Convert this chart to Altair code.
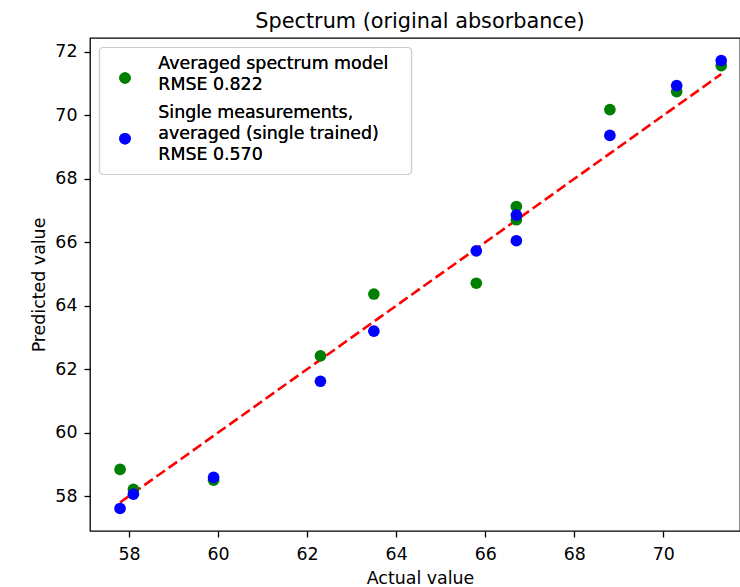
import altair as alt
import pandas as pd

# ---- data ----
actual = [57.8, 58.1, 59.9, 62.3, 63.5, 65.8, 66.7, 66.7, 68.8, 70.3, 71.3]
pred_avg_spectrum = [58.84, 58.21, 58.50, 62.42, 64.37, 64.71, 67.13, 66.71, 70.18, 70.75, 71.57]
pred_single_avg = [57.61, 58.06, 58.59, 61.62, 63.20, 65.73, 66.86, 66.05, 69.37, 70.94, 71.73]
ideal_line = [57.8, 71.3]

series_labels = [
    ["Averaged spectrum model", "RMSE 0.822"],
    ["Single measurements,", "averaged (single trained)", "RMSE 0.570"],
]
series_colors = ["#008000", "#0000ff"]

x_ticks = [58, 60, 62, 64, 66, 68, 70]
y_ticks = [58, 60, 62, 64, 66, 68, 70, 72]

FONT = "DejaVu Sans"
W, H = 650, 493
x_dom = [57.125, 71.722]
y_dom = [56.90, 72.44]

df_g = pd.DataFrame({"actual": actual, "pred": pred_avg_spectrum})
df_b = pd.DataFrame({"actual": actual, "pred": pred_single_avg})
df_l = pd.DataFrame({"actual": ideal_line, "pred": ideal_line})

xs = alt.Scale(domain=x_dom, nice=False, zero=False)
ys = alt.Scale(domain=y_dom, nice=False, zero=False)

x_axis = alt.Axis(values=x_ticks, title="Actual value", grid=False, domain=False,
                  tickSize=6, tickWidth=1.3, tickColor="black", labelPadding=8,
                  labelFontSize=17.4, labelFont=FONT, labelColor="black",
                  titleFont=FONT, titleFontSize=17.4, titleFontWeight="normal",
                  titleColor="black", titleX=330, titleY=52, titleAlign="center",
                  titleBaseline="alphabetic")
y_axis = alt.Axis(values=y_ticks, title="Predicted value", grid=False, domain=False,
                  tickSize=6, tickWidth=1.3, tickColor="black", labelPadding=7,
                  labelFontSize=17.4, labelFont=FONT, labelColor="black",
                  titleFont=FONT, titleFontSize=17.4, titleFontWeight="normal",
                  titleColor="black", titleX=-45.5, titleY=H / 2, titleAngle=270,
                  titleAlign="center", titleBaseline="alphabetic")

line = alt.Chart(df_l).mark_line(color="#ff0000", strokeWidth=2.6,
                                 strokeDash=[10.4, 4.5]).encode(
    x=alt.X("actual:Q", scale=xs, axis=x_axis),
    y=alt.Y("pred:Q", scale=ys, axis=y_axis),
)
pts_g = alt.Chart(df_g).mark_circle(size=136, opacity=1, color=series_colors[0]).encode(
    x=alt.X("actual:Q", scale=xs), y=alt.Y("pred:Q", scale=ys))
pts_b = alt.Chart(df_b).mark_circle(size=136, opacity=1, color=series_colors[1]).encode(
    x=alt.X("actual:Q", scale=xs), y=alt.Y("pred:Q", scale=ys))

# ---- hand-built legend box (matplotlib style) ----
legend_layers = [
    alt.Chart(df_l).mark_rect(fill="white", fillOpacity=0.8, stroke="#cccccc",
                              strokeWidth=1.2, cornerRadius=4).encode(
        x=alt.value(9.5), x2=alt.value(321.5), y=alt.value(9.5), y2=alt.value(136.5))
]
marker_y = [40, 100.7]
line_baselines = [[30.7, 52.3], [80, 101.3, 122.3]]
for i, lines in enumerate(series_labels):
    legend_layers.append(
        alt.Chart(df_l).mark_circle(size=133, opacity=1, color=series_colors[i]).encode(
            x=alt.value(35), y=alt.value(marker_y[i])))
    for j, txt in enumerate(lines):
        legend_layers.append(
            alt.Chart(df_l).mark_text(text=txt, font=FONT, fontSize=17.4, align="left",
                                      baseline="alphabetic", color="black").encode(
                x=alt.value(68.3), y=alt.value(line_baselines[i][j])))

chart = alt.layer(line, pts_g, pts_b, *legend_layers).properties(
    width=W, height=H,
    title=alt.TitleParams("Spectrum (original absorbance)", font=FONT, fontSize=20.8,
                          fontWeight="normal", color="black", anchor="middle",
                          frame="group", baseline="alphabetic", offset=11, dx=5, dy=22),
    autosize=alt.AutoSizeParams(type="none"),
    padding={"left": 90, "top": 38, "right": 0, "bottom": 56},
    background="white",
).configure_view(stroke="black", strokeWidth=1.3)

chart.save("out.html", embed_options={"renderer": "svg", "actions": False})
